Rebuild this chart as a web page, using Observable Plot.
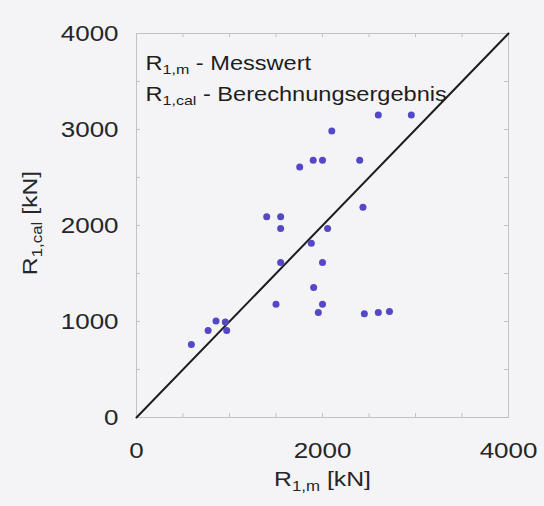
<!DOCTYPE html>
<html>
<head>
<meta charset="utf-8">
<script src="https://cdn.jsdelivr.net/npm/d3@7"></script>
<script src="https://cdn.jsdelivr.net/npm/@observablehq/plot@0.6"></script>
<style>
  html, body { margin: 0; padding: 0; background: #f4f4f6; }
  #chart { width: 544px; height: 506px; }
</style>
</head>
<body>
<div id="chart"></div>
<script>
// Measured resistance R_1,m [kN]
const measured = [590, 770, 855, 955, 970, 1500, 1550, 1550, 1550, 1400, 1755, 1900, 2000, 2100,
  1880, 2055, 2000, 1905, 2000, 1955, 2400, 2435, 2450, 2600, 2720, 2600, 2955];
// Calculated resistance R_1,cal [kN]
const calculated = [760, 905, 1005, 995, 905, 1180, 1615, 1970, 2090, 2090, 2610, 2680, 2680, 2985,
  1815, 1970, 1615, 1355, 1180, 1095, 2680, 2190, 1080, 1095, 1105, 3150, 3150];

const xTickLabels = [0, 2000, 4000];
const yTickLabels = [0, 1000, 2000, 3000, 4000];
const minorTicks = [500, 1000, 1500, 2000, 2500, 3000, 3500];
const diagonal = [0, 4000];

const legendLines = ["R_{1,m} - Messwert", "R_{1,cal} - Berechnungsergebnis"];
const xTitle = "R_{1,m} [kN]";
const yTitle = "R_{1,cal} [kN]";

const points = measured.map((m, i) => ({m, c: calculated[i]}));

const frameColor = "#c2c2c4";
const textColor = "#262626";

const svg = Plot.plot({
  width: 544,
  height: 506,
  marginLeft: 136,
  marginRight: 36,
  marginTop: 33,
  marginBottom: 89,
  style: {fontFamily: "'Liberation Sans', Arial, sans-serif", background: "transparent", color: textColor},
  x: {domain: [0, 4000]},
  y: {domain: [0, 4000]},
  marks: [
    Plot.frame({stroke: frameColor}),
    // inward ticks on all four sides
    Plot.tickX(minorTicks, {x: d => d, stroke: frameColor, insetTop: 380}),
    Plot.tickX(minorTicks, {x: d => d, stroke: frameColor, insetBottom: 380}),
    Plot.tickY(minorTicks, {y: d => d, stroke: frameColor, insetRight: 368}),
    Plot.tickY(minorTicks, {y: d => d, stroke: frameColor, insetLeft: 368}),
    Plot.axisX(xTickLabels, {anchor: "bottom", tickSize: 0, tickPadding: 25, fontSize: 22, tickFormat: "d", label: null}),
    Plot.axisY(yTickLabels, {anchor: "left", tickSize: 0, tickPadding: 18, fontSize: 22, tickFormat: "d", label: null}),
    Plot.line(diagonal, {x: d => d, y: d => d, stroke: "#1c1c1c", strokeWidth: 2}),
    Plot.dot(points, {x: "m", y: "c", r: 3.5, fill: "#5548c6", stroke: "none"}),
    Plot.text([legendLines[0]], {frameAnchor: "top-left", textAnchor: "start", lineAnchor: "middle", dx: 9, dy: 29.6, fontSize: 20, fill: "#1e1e1e"}),
    Plot.text([legendLines[1]], {frameAnchor: "top-left", textAnchor: "start", lineAnchor: "middle", dx: 9, dy: 60.6, fontSize: 20, fill: "#1e1e1e"}),
    Plot.text([xTitle], {frameAnchor: "bottom", textAnchor: "middle", lineAnchor: "middle", dy: 61.3, fontSize: 21, fill: textColor}),
    Plot.text([yTitle], {frameAnchor: "left", textAnchor: "middle", lineAnchor: "middle", rotate: -90, dx: -106.7, dy: -2.5, fontSize: 21, fill: textColor})
  ]
});

// Subscripts (R_{...}) and the slightly wide lettering of the axis font
const stretch = 1.18;
d3.select(svg).selectAll("text").each(function () {
  const s = this.textContent;
  const m = /^(.*?)_\{([^}]*)\}(.*)$/.exec(s);
  if (m) {
    const t = d3.select(this);
    t.text(null);
    t.append("tspan").text(m[1]);
    t.append("tspan").attr("font-size", "0.68em").attr("dy", "0.36em").text(m[2]);
    t.append("tspan").attr("dy", `${-(0.36 * 0.68).toFixed(4)}em`).text(m[3]);
  }
  const tr = this.getAttribute("transform");
  if (tr) {
    this.setAttribute("transform", `${tr} scale(${stretch},1)`);
  } else {
    const x = +(this.getAttribute("x") || 0);
    this.setAttribute("transform", `translate(${x},0) scale(${stretch},1) translate(${-x},0)`);
  }
});

document.getElementById("chart").appendChild(svg);
</script>
</body>
</html>
